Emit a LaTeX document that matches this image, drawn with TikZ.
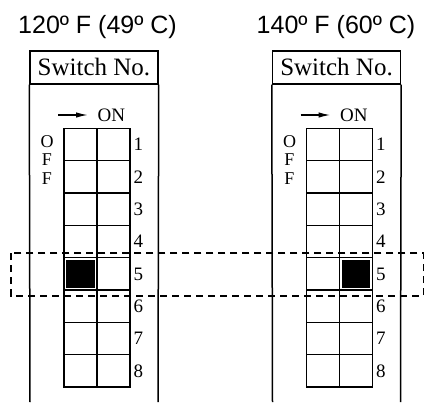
\documentclass[tikz,border=0pt]{standalone}
\usepackage{fontspec}
\setmainfont{Liberation Serif}
\newfontfamily\titlefont{Liberation Sans}
\usetikzlibrary{arrows.meta}
\tikzset{
  titletext/.style={font=\titlefont\fontsize{25}{28}\selectfont, inner sep=0pt, anchor=base},
  headbox/.style={draw, line width=1.4pt, minimum width=128pt, minimum height=33pt, inner sep=0pt, font=\fontsize{25}{28}\selectfont},
  sideline/.style={line width=1.5pt},
  gridline/.style={line width=1.4pt},
  onarrow/.style={line width=1.4pt, -{Latex[length=12pt,width=5.5pt]}},
  ontext/.style={font=\fontsize{19}{22}\selectfont, inner sep=0pt, anchor=base west},
  numtext/.style={font=\fontsize{19}{22}\selectfont, inner sep=0pt, anchor=base west},
  offtext/.style={font=\fontsize{18}{18.5}\selectfont, inner sep=0pt, anchor=north, align=center},
  selbox/.style={dash pattern=on 7pt off 5pt, line width=1.8pt},
}
\newcommand\dippanel[5]{%
  \node[titletext] (#1title) at (#5,33) {#3};
  \begin{scope}[xshift=#2pt]
    \node[headbox] (#1head) at (94,67.5) {Switch No.};
    \coordinate (#1bl) at (30,402);
    \coordinate (#1br) at (158,402);
    \draw[sideline] (#1head.south west) -- (#1bl);
    \draw[sideline] (#1head.south east) -- (#1br);
    \coordinate (#1as) at (58,115);
    \coordinate (#1ae) at (88,115);
    \draw[onarrow] (#1as) -- (#1ae);
    \node[ontext] (#1on) at (97.5,121) {ON};
    \node[offtext] (#1off) at (47,135) {O\\F\\F};
    \foreach \r in {0,...,7} {
      \draw[gridline] (64,128.3+32.35*\r) rectangle ++(33,32.35);
      \draw[gridline] (97,128.3+32.35*\r) rectangle ++(33,32.35);
    }
    \foreach \r in {1,...,8} {
      \node[numtext] (#1n\r) at (133.5,128.3+32.35*\r-16.2+6.3) {\r};
    }
    \fill (66+33*#4,128.3+32.35*4+2.3) rectangle ++(28.8,27.8);
  \end{scope}
}
\begin{document}
\begin{tikzpicture}[x=1pt,y=-1pt]
  \useasboundingbox (0,0) rectangle (426,402);
  \dippanel{a}{0}{120º F (49º C)}{0}{97.5}
  \dippanel{b}{242.5}{140º F (60º C)}{1}{336}
  \draw[selbox] (11,253.3) rectangle (423.5,296);
\end{tikzpicture}
\end{document}
